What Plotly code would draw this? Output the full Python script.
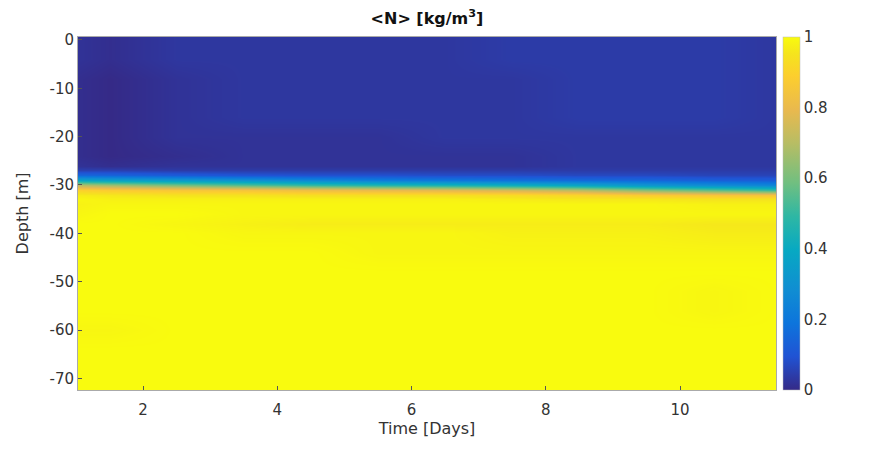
import plotly.graph_objects as go

# Time axis (days) for the heatmap columns
times = [1.0, 1.5, 2.5, 3.5, 4.5, 5.5, 6.5, 7.5, 8.5, 9.5, 10.5, 11.5]

# Depth levels (m) for the heatmap rows
depths = [0, -4, -8, -12, -16, -20, -24, -26, -27, -28, -29, -30, -31, -32,
          -33, -34, -36, -38, -40, -44, -48, -52, -56, -60, -64, -68, -72]

# <N> values, one list per depth level (columns follow `times`)
row_0   = [0.02, 0.01, 0.03, 0.03, 0.03, 0.03, 0.03, 0.04, 0.04, 0.04, 0.04, 0.03]
row_4   = [0.02, 0.01, 0.03, 0.03, 0.03, 0.03, 0.03, 0.04, 0.04, 0.04, 0.04, 0.03]
row_8   = [0.01, 0.00, 0.02, 0.03, 0.03, 0.03, 0.03, 0.03, 0.04, 0.04, 0.04, 0.03]
row_12  = [0.01, 0.00, 0.02, 0.03, 0.03, 0.03, 0.03, 0.03, 0.04, 0.04, 0.04, 0.03]
row_16  = [0.01, 0.00, 0.02, 0.03, 0.03, 0.03, 0.03, 0.03, 0.04, 0.04, 0.04, 0.03]
row_20  = [0.01, 0.00, 0.02, 0.02, 0.02, 0.02, 0.03, 0.03, 0.03, 0.03, 0.03, 0.03]
row_24  = [0.01, 0.00, 0.01, 0.02, 0.02, 0.02, 0.02, 0.02, 0.03, 0.03, 0.03, 0.03]
row_26  = [0.02, 0.01, 0.02, 0.02, 0.02, 0.02, 0.02, 0.02, 0.03, 0.03, 0.03, 0.03]
row_27  = [0.05, 0.05, 0.04, 0.04, 0.04, 0.04, 0.04, 0.04, 0.04, 0.04, 0.04, 0.04]
row_28  = [0.15, 0.14, 0.12, 0.10, 0.09, 0.09, 0.08, 0.08, 0.07, 0.07, 0.06, 0.06]
row_29  = [0.38, 0.36, 0.33, 0.30, 0.26, 0.22, 0.20, 0.18, 0.16, 0.15, 0.13, 0.12]
row_30  = [0.70, 0.66, 0.60, 0.55, 0.50, 0.47, 0.45, 0.42, 0.38, 0.32, 0.28, 0.25]
row_31  = [0.90, 0.88, 0.86, 0.85, 0.82, 0.80, 0.78, 0.75, 0.70, 0.62, 0.56, 0.50]
row_32  = [0.97, 0.96, 0.95, 0.95, 0.94, 0.94, 0.94, 0.93, 0.91, 0.88, 0.86, 0.85]
row_33  = [0.99, 0.98, 0.98, 0.98, 0.98, 0.98, 0.98, 0.97, 0.96, 0.96, 0.95, 0.95]
row_34  = [0.98, 0.99, 0.99, 0.99, 0.99, 0.99, 0.99, 0.99, 0.99, 0.99, 0.98, 0.98]
row_36  = [0.99, 1.00, 1.00, 0.99, 0.99, 0.99, 0.99, 0.99, 0.99, 0.99, 0.99, 0.99]
row_38  = [1.00, 1.00, 0.99, 0.98, 0.97, 0.97, 0.97, 0.97, 0.97, 0.97, 0.96, 0.96]
row_40  = [1.00, 1.00, 1.00, 0.99, 0.99, 0.99, 0.99, 0.98, 0.98, 0.98, 0.97, 0.97]
row_44  = [1.00, 1.00, 1.00, 1.00, 1.00, 0.99, 0.99, 0.99, 0.99, 0.99, 0.99, 0.99]
row_48  = [1.00, 1.00, 1.00, 1.00, 1.00, 1.00, 1.00, 1.00, 1.00, 1.00, 1.00, 1.00]
row_52  = [1.00, 1.00, 1.00, 1.00, 1.00, 1.00, 1.00, 1.00, 1.00, 1.00, 0.99, 1.00]
row_56  = [1.00, 1.00, 1.00, 1.00, 1.00, 1.00, 1.00, 1.00, 1.00, 1.00, 0.99, 1.00]
row_60  = [0.99, 0.99, 1.00, 1.00, 1.00, 1.00, 1.00, 1.00, 1.00, 1.00, 1.00, 1.00]
row_64  = [1.00, 1.00, 1.00, 1.00, 1.00, 1.00, 1.00, 1.00, 1.00, 1.00, 1.00, 1.00]
row_68  = [1.00, 1.00, 1.00, 1.00, 1.00, 1.00, 1.00, 1.00, 1.00, 1.00, 1.00, 1.00]
row_72  = [1.00, 1.00, 1.00, 1.00, 1.00, 1.00, 1.00, 1.00, 1.00, 1.00, 1.00, 1.00]

x_ticks = [2, 4, 6, 8, 10]
y_ticks = [0, -10, -20, -30, -40, -50, -60, -70]
y_labels = ["0", "-10", "-20", "-30", "-40", "-50", "-60", "-70"]
cbar_ticks = [0, 0.2, 0.4, 0.6, 0.8, 1]
cbar_labels = ["0", "0.2", "0.4", "0.6", "0.8", "1"]

z = [row_0, row_4, row_8, row_12, row_16, row_20, row_24, row_26, row_27,
     row_28, row_29, row_30, row_31, row_32, row_33, row_34, row_36, row_38,
     row_40, row_44, row_48, row_52, row_56, row_60, row_64, row_68, row_72]

# MATLAB parula colormap (sampled)
parula_pts = [
    (0.2081, 0.1663, 0.5292), (0.1253, 0.3242, 0.8303), (0.0498, 0.4586, 0.8641),
    (0.0641, 0.5570, 0.8240), (0.0267, 0.6642, 0.7607), (0.1801, 0.7177, 0.6424),
    (0.4420, 0.7481, 0.5033), (0.7184, 0.7411, 0.3905), (0.9139, 0.7258, 0.3063),
    (0.9880, 0.8066, 0.1794), (0.9589, 0.8949, 0.1132), (0.9763, 0.9831, 0.0538),
]
parula_pos = [0, 6, 12, 18, 25, 31, 37, 44, 50, 56, 60, 63]
colorscale = [[p / 63, "rgb(%d,%d,%d)" % tuple(round(c * 255) for c in rgb)]
              for p, rgb in zip(parula_pos, parula_pts)]

font = "DejaVu Sans, Arial, sans-serif"

fig = go.Figure(go.Heatmap(
    x=times, y=depths, z=z,
    colorscale=colorscale, zmin=0, zmax=1, zsmooth="best",
    colorbar=dict(
        x=1.01, xanchor="left", y=0.5, yanchor="middle",
        len=1, lenmode="fraction", thickness=17, ypad=0, xpad=0,
        tickvals=cbar_ticks, ticktext=cbar_labels,
        ticks="", outlinewidth=0.5, outlinecolor="#bbbbbb",
        tickfont=dict(family=font, size=15, color="#333333"),
    ),
))

fig.update_layout(
    width=892, height=451,
    margin=dict(l=70, r=124, t=29, b=69),
    paper_bgcolor="white", plot_bgcolor="white",
    font=dict(family=font, size=15, color="#333333"),
    title=dict(text="<b>&lt;N&gt; [kg/m<sup>3</sup>]</b>", x=0.5, xref="paper",
               xanchor="center", y=0.99, yanchor="top",
               font=dict(family=font, size=16, color="#111111")),
)
fig.update_xaxes(
    range=[1.03, 11.43], tickvals=x_ticks, ticks="inside", ticklen=4,
    tickcolor="#555555", showline=True, linecolor="#aaaaaa", linewidth=1,
    mirror=True, showgrid=False, zeroline=False, ticklabelstandoff=6,
    title=dict(text="Time [Days]", standoff=2, font=dict(family=font, size=16)),
    tickfont=dict(family=font, size=15),
)
fig.update_yaxes(
    range=[-72.4, 0.6], tickvals=y_ticks, ticktext=y_labels, ticks="inside",
    ticklen=4, tickcolor="#555555", showline=True, linecolor="#aaaaaa",
    linewidth=1, mirror=True, showgrid=False, zeroline=False,
    title=dict(text="Depth [m]", standoff=16, font=dict(family=font, size=16)),
    tickfont=dict(family=font, size=15),
)

fig.write_html("out.html")
